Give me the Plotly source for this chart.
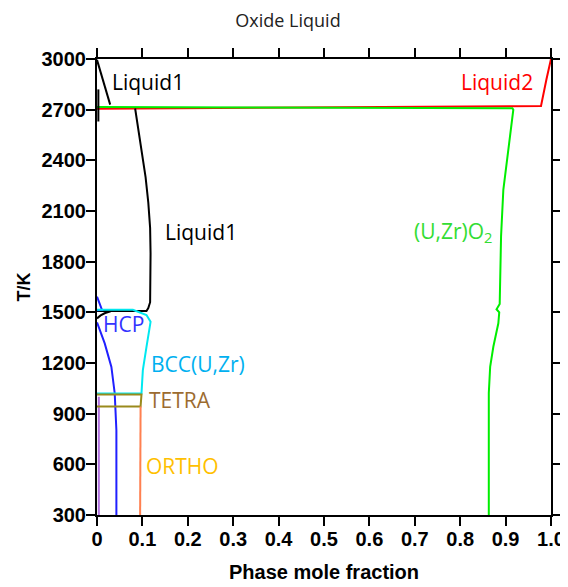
import plotly.graph_objects as go

# ---- data (phase mole fraction, T/K) ----
liq1_top_x = [0.0, 0.029]
liq1_top_T = [2995, 2730]
liq1_stub_x = [0.003, 0.003]
liq1_stub_T = [2820, 2630]
liq1_x = [0.084, 0.090, 0.097, 0.107, 0.113, 0.117, 0.118, 0.118, 0.117, 0.113, 0.109, 0.0]
liq1_T = [2707, 2600, 2450, 2300, 2150, 2000, 1850, 1700, 1560, 1525, 1508, 1508]
liq1_low_x = [0.0, 0.008, 0.018, 0.03]
liq1_low_T = [1464, 1482, 1496, 1506]

liq2_x = [0.0, 0.5, 0.978, 0.99, 1.0]
liq2_T = [2705, 2712, 2722, 2880, 3000]

oxide_x = [0.0, 0.5, 0.915, 0.917, 0.905, 0.895, 0.890, 0.888, 0.888, 0.887, 0.880, 0.886, 0.884, 0.873, 0.866, 0.863, 0.863, 0.863]
oxide_T = [2716, 2714, 2708, 2700, 2450, 2225, 1950, 1700, 1600, 1550, 1518, 1500, 1435, 1296, 1177, 1022, 700, 300]

hcp_tri_x = [0.0, 0.011, 0.0]
hcp_tri_T = [1593, 1515, 1512]
hcp_x = [0.0, 0.008, 0.017, 0.0317, 0.039, 0.0427, 0.0427]
hcp_T = [1440, 1380, 1316, 1177, 1021, 802, 300]

bcc_x = [0.0, 0.079, 0.109, 0.118, 0.109, 0.101, 0.098, 0.0]
bcc_T = [1515, 1515, 1484, 1444, 1296, 1158, 1020, 1020]

tetra_x = [0.0, 0.098, 0.096, 0.0]
tetra_T = [1014, 1014, 942, 942]

ortho_x = [0.096, 0.095]
ortho_T = [942, 300]

alpha_x = [0.004, 0.004]
alpha_T = [1000, 300]

labels = ["Liquid1", "Liquid2", "Liquid1", "(U,Zr)O<sub>2</sub>", "HCP", "BCC(U,Zr)", "TETRA", "ORTHO"]
label_x = [0.112, 0.882, 0.229, 0.785, 0.059, 0.222, 0.183, 0.188]
label_T = [2865, 2861, 1976, 1976, 1431, 1193, 980, 589]
label_c = ["#000000", "#FF0000", "#000000", "#33DD33", "#3333FF", "#00B0F0", "#9C6B30", "#FFC000"]

fig = go.Figure()

def add(x, y, color):
    fig.add_trace(go.Scatter(x=x, y=y, mode="lines", line=dict(color=color, width=2),
                             showlegend=False, hoverinfo="skip"))

add(liq2_x, liq2_T, "#FF0000")
add(oxide_x, oxide_T, "#00EE00")
add(liq1_top_x, liq1_top_T, "#000000")
add(liq1_stub_x, liq1_stub_T, "#000000")
add(liq1_x, liq1_T, "#000000")
add(liq1_low_x, liq1_low_T, "#000000")
add(alpha_x, alpha_T, "#B070E0")
add(hcp_tri_x, hcp_tri_T, "#2020FF")
add(hcp_x, hcp_T, "#2020FF")
add(bcc_x, bcc_T, "#00E8F0")
add(tetra_x, tetra_T, "#9A8A1C")
add(ortho_x, ortho_T, "#FF8050")

for t, x, y, c in zip(labels, label_x, label_T, label_c):
    fig.add_annotation(x=x, y=y, text=t, showarrow=False,
                       font=dict(family="Open Sans", size=21, color=c))

axis_common = dict(showline=True, linecolor="black", linewidth=2, mirror="ticks",
                   ticks="outside", ticklen=9, tickwidth=2, tickcolor="black",
                   showgrid=False, zeroline=False, automargin=False,
                   ticklabeloverflow="allow", ticklabelstandoff=-4,
                   tickfont=dict(family="Liberation Sans", size=20, color="black", weight="bold"))

fig.update_xaxes(range=[0, 1.0], tickvals=[i / 10 for i in range(11)],
                 ticktext=["0", "0.1", "0.2", "0.3", "0.4", "0.5", "0.6", "0.7", "0.8", "0.9", "1.0"],
                 title=dict(text="<b>Phase mole fraction</b>", font=dict(family="Liberation Sans", size=20, color="black"), standoff=16),
                 **axis_common)
fig.update_yaxes(range=[300, 3000], tickvals=list(range(300, 3001, 300)),
                 title=dict(text="<b>T/K</b>", font=dict(family="Liberation Sans", size=18, color="black"), standoff=6),
                 **axis_common)

fig.update_layout(
    width=560, height=579,
    margin=dict(l=89, r=17, t=51, b=72),
    plot_bgcolor="white", paper_bgcolor="white",
    title=dict(text="Oxide Liquid", x=0.5, xanchor="center", y=0.9775, yanchor="middle",
               font=dict(family="Open Sans", size=18, color="#222222")),
)

fig.write_html("out.html")
